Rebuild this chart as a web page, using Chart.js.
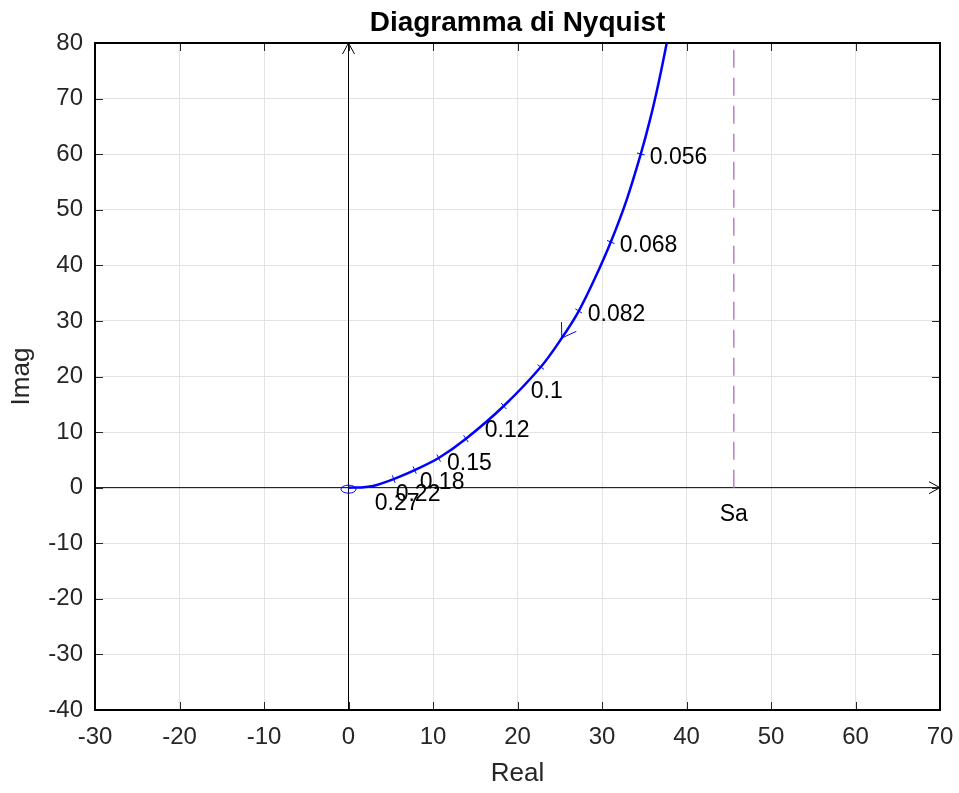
<!DOCTYPE html>
<html>
<head>
<meta charset="utf-8">
<script src="https://cdn.jsdelivr.net/npm/chart.js@4/dist/chart.umd.min.js"></script>
<style>
  html, body { margin: 0; padding: 0; background: #fff; }
  #wrap { width: 959px; height: 793px; }
</style>
</head>
<body>
<div id="wrap"><canvas id="nyq"></canvas></div>
<script>
// curve (real, imag)
const curveRe = [0, 1.5, 2.9, 4.2, 5.35, 7.83, 10.67, 13.9, 18.37, 22.75, 25.24, 27.25, 29.2, 31.04, 32.9, 34.59, 35.7, 36.72, 37.66, 38.4];
const curveIm = [0, 0.05, 0.3, 0.9, 1.55, 3.17, 5.33, 8.8, 14.69, 21.71, 26.92, 31.78, 37.8, 44.2, 51.7, 60.03, 66.3, 73.0, 80, 86];

// frequency marks on the curve
const freqLabels = ["0.056", "0.068", "0.082", "0.1", "0.12", "0.15", "0.18", "0.22", "0.27"];
const freqRe = [34.59, 31.04, 27.25, 22.75, 18.37, 13.9, 10.67, 7.83, 5.35];
const freqIm = [60.03, 44.2, 31.78, 21.71, 14.69, 8.8, 5.33, 3.17, 1.55];

// direction arrow and the asymptote
const arrowRe = 25.24;
const arrowIm = 26.92;
const saRe = 45.6;
const saLabel = "Sa";

const xTicks = [-30, -20, -10, 0, 10, 20, 30, 40, 50, 60, 70];
const yTicks = [-40, -30, -20, -10, 0, 10, 20, 30, 40, 50, 60, 70, 80];

const titleText = "Diagramma di Nyquist";

const FONT = "'Liberation Sans', Arial, Helvetica, sans-serif";
const BLUE = "#0000ff";

const extras = {
  id: "nyqExtras",
  beforeDatasetsDraw(chart) {
    const { ctx, chartArea: a, scales: { x, y } } = chart;
    ctx.save();
    // axes through the origin with arrow heads
    const x0 = x.getPixelForValue(0), y0 = y.getPixelForValue(0);
    ctx.strokeStyle = "#000";
    ctx.lineWidth = 1;
    ctx.beginPath();
    ctx.moveTo(a.left, y0); ctx.lineTo(a.right, y0);
    ctx.moveTo(x0, a.bottom); ctx.lineTo(x0, a.top);
    ctx.moveTo(a.right - 11, y0 - 6); ctx.lineTo(a.right, y0); ctx.lineTo(a.right - 11, y0 + 6);
    ctx.moveTo(x0 - 6, a.top + 11); ctx.lineTo(x0, a.top); ctx.lineTo(x0 + 6, a.top + 11);
    ctx.stroke();

    // inward ticks on all four sides
    ctx.strokeStyle = "#262626";
    ctx.beginPath();
    xTicks.forEach(v => {
      const px = Math.round(x.getPixelForValue(v)) + 0.5;
      ctx.moveTo(px, a.bottom); ctx.lineTo(px, a.bottom - 8);
      ctx.moveTo(px, a.top); ctx.lineTo(px, a.top + 8);
    });
    yTicks.forEach(v => {
      const py = Math.round(y.getPixelForValue(v)) + 0.5;
      ctx.moveTo(a.left, py); ctx.lineTo(a.left + 8, py);
      ctx.moveTo(a.right, py); ctx.lineTo(a.right - 8, py);
    });
    ctx.stroke();

    // frame
    ctx.strokeStyle = "#000";
    ctx.lineWidth = 2;
    ctx.strokeRect(a.left, a.top, a.right - a.left, a.bottom - a.top);

    // title, centred over the plot box
    ctx.fillStyle = "#000";
    ctx.font = "bold 28px " + FONT;
    ctx.textAlign = "center";
    ctx.textBaseline = "alphabetic";
    ctx.fillText(titleText, (a.left + a.right) / 2, 31);
    ctx.restore();
  },
  afterDatasetsDraw(chart) {
    const { ctx, scales: { x, y } } = chart;
    const pts = curveRe.map((v, i) => [x.getPixelForValue(v), y.getPixelForValue(curveIm[i])]);
    const tangentAt = (px, py) => {
      let best = 1, bd = Infinity;
      for (let i = 1; i < pts.length; i++) {
        const mx = (pts[i][0] + pts[i - 1][0]) / 2, my = (pts[i][1] + pts[i - 1][1]) / 2;
        const d = (mx - px) ** 2 + (my - py) ** 2;
        if (d < bd) { bd = d; best = i; }
      }
      const dx = pts[best][0] - pts[best - 1][0], dy = pts[best][1] - pts[best - 1][1];
      const l = Math.hypot(dx, dy);
      return [dx / l, dy / l];
    };
    ctx.save();
    ctx.strokeStyle = BLUE;
    ctx.lineWidth = 1;

    // small marks across the curve
    ctx.beginPath();
    freqRe.forEach((v, i) => {
      const px = x.getPixelForValue(v), py = y.getPixelForValue(freqIm[i]);
      const [tx, ty] = tangentAt(px, py);
      ctx.moveTo(px - ty * 4, py + tx * 4);
      ctx.lineTo(px + ty * 4, py - tx * 4);
    });
    ctx.stroke();

    // direction arrow, pointing towards the origin
    const ax = x.getPixelForValue(arrowRe), ay = y.getPixelForValue(arrowIm);
    const [tx, ty] = tangentAt(ax, ay);
    const back = Math.atan2(ty, tx);
    ctx.beginPath();
    [-0.58, 0.58].forEach(r => {
      ctx.moveTo(ax, ay);
      ctx.lineTo(ax + 16 * Math.cos(back + r), ay + 16 * Math.sin(back + r));
    });
    ctx.stroke();

    // little ellipse at the origin
    ctx.beginPath();
    ctx.ellipse(x.getPixelForValue(0), y.getPixelForValue(0) + 1.5, 7.5, 4, 0, 0, Math.PI * 2);
    ctx.stroke();

    // frequency labels
    ctx.fillStyle = "#000";
    ctx.font = "23px " + FONT;
    ctx.textAlign = "left";
    ctx.textBaseline = "middle";
    freqLabels.forEach((t, i) => {
      const px = x.getPixelForValue(freqRe[i]), py = y.getPixelForValue(freqIm[i]);
      if (freqRe[i] > 25) ctx.fillText(t, px + 9, py + 4);
      else ctx.fillText(t, px - 19 + (t.length < 4 ? 9 : 0), py + 25);
    });

    // asymptote label
    ctx.textAlign = "center";
    ctx.fillText(saLabel, x.getPixelForValue(saRe), y.getPixelForValue(0) + 27);
    ctx.restore();
  }
};

new Chart(document.getElementById("nyq"), {
  type: "scatter",
  data: {
    datasets: [
      {
        data: curveRe.map((v, i) => ({ x: v, y: curveIm[i] })),
        showLine: true,
        borderColor: BLUE,
        borderWidth: 2.5,
        pointRadius: 0,
        tension: 0.35
      },
      {
        data: [{ x: saRe, y: 0 }, { x: saRe, y: 80 }],
        showLine: true,
        borderColor: "#b97fc8",
        borderWidth: 1.5,
        borderDash: [18, 10],
        pointRadius: 0
      }
    ]
  },
  options: {
    responsive: true,
    maintainAspectRatio: false,
    animation: false,
    layout: { padding: { left: 0, right: 19, top: 43, bottom: 0 } },
    plugins: {
      legend: { display: false },
      tooltip: { enabled: false },
      title: { display: false }
    },
    scales: {
      x: {
        type: "linear",
        min: -30,
        max: 70,
        afterBuildTicks: s => { s.ticks = xTicks.map(v => ({ value: v })); },
        afterFit: s => { s.height = 83; s.paddingLeft = 0; s.paddingRight = 0; },
        ticks: { color: "#262626", font: { family: FONT, size: 24 }, padding: 13 },
        grid: { color: "#e3e3e3", drawTicks: false },
        border: { display: false },
        title: { display: true, text: "Real", color: "#262626", font: { family: FONT, size: 26 }, padding: { top: 0, bottom: 4 } }
      },
      y: {
        type: "linear",
        min: -40,
        max: 80,
        afterBuildTicks: s => { s.ticks = yTicks.map(v => ({ value: v })); },
        afterFit: s => { s.width = 95; s.paddingTop = 0; s.paddingBottom = 0; },
        ticks: { color: "#262626", font: { family: FONT, size: 24 }, padding: 12 },
        grid: { color: "#e3e3e3", drawTicks: false },
        border: { display: false },
        title: { display: true, text: "Imag", color: "#262626", font: { family: FONT, size: 26 }, padding: { top: 6, bottom: 0 } }
      }
    }
  },
  plugins: [extras]
});
</script>
</body>
</html>
